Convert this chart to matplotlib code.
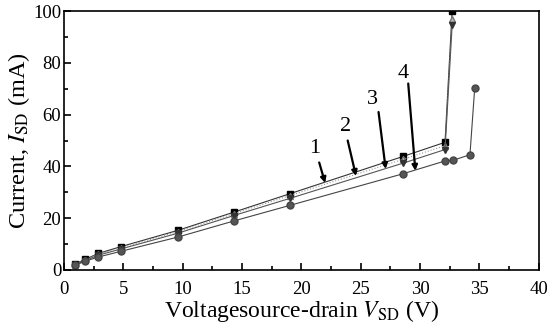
import numpy as np
import matplotlib
matplotlib.use("Agg")
import matplotlib.pyplot as plt

plt.rcParams['font.family'] = ['Liberation Serif', 'DejaVu Serif']
plt.rcParams['mathtext.fontset'] = 'stix'

# curves 1-3 share the same voltage points
v_123 = [0.9, 1.8, 2.9, 4.8, 9.6, 14.3, 19.0, 28.6, 32.1, 32.7]
i_1 = [2.2, 4.1, 6.4, 9.0, 15.3, 22.3, 29.4, 43.9, 49.3, 100.0]
i_2 = [2.0, 3.9, 6.1, 8.6, 14.8, 21.7, 28.7, 42.8, 48.0, 97.0]
i_3 = [1.8, 3.6, 5.7, 8.1, 14.2, 21.0, 27.6, 41.3, 46.5, 94.5]

v_4 = [0.9, 1.8, 2.9, 4.8, 9.6, 14.3, 19.0, 28.6, 32.1, 32.8, 34.2, 34.6]
i_4 = [1.8, 3.4, 5.0, 7.2, 12.7, 18.9, 24.9, 37.2, 42.1, 42.4, 44.5, 70.2]

curve_labels = ['1', '2', '3', '4']
label_xy = [(21.1, 47.0), (23.7, 55.5), (26.0, 65.7), (28.6, 76.0)]
arrow_from = [(21.5, 41.5), (23.9, 50.0), (26.5, 61.0), (29.0, 72.0)]
arrow_to = [(22.0, 33.6), (24.6, 36.3), (27.1, 39.0), (29.6, 38.3)]

fig = plt.figure(figsize=(5.47, 3.26), dpi=100)
ax = fig.add_axes([0.117, 0.172, 0.868, 0.794])

ax.plot(v_123, i_1, color='#333333', lw=0.8, marker='s', ms=4.5,
        mfc='black', mec='black')
ax.plot(v_123, i_2, color='#999999', lw=0.8, ls=':', marker='^', ms=5,
        mfc='#bbbbbb', mec='#777777')
ax.plot(v_123, i_3, color='#555555', lw=0.8, marker='v', ms=5,
        mfc='#333333', mec='#333333')
ax.plot(v_4, i_4, color='#444444', lw=0.8, marker='o', ms=5,
        mfc='#555555', mec='#444444')

for lab, xy, p0, p1 in zip(curve_labels, label_xy, arrow_from, arrow_to):
    ax.text(xy[0], xy[1], lab, fontsize=16, ha='center', va='center')
    ax.annotate('', xy=p1, xytext=p0,
                arrowprops=dict(arrowstyle='-|>', color='black', lw=1.6,
                                mutation_scale=8, shrinkA=0, shrinkB=0))

ax.set_xlim(0, 40)
ax.set_ylim(0, 100)
ax.set_xticks(np.arange(0, 41, 5))
ax.set_xticks(np.arange(0, 41, 2.5), minor=True)
ax.set_yticks(np.arange(0, 101, 20))
ax.set_yticks(np.arange(0, 101, 10), minor=True)
ax.tick_params(direction='in', which='both', labelsize=13.5, width=1.2)
ax.tick_params(which='major', length=5)
ax.tick_params(which='minor', length=3)
ax.tick_params(axis='x', pad=8)
ax.tick_params(axis='y', pad=2)
for s in ax.spines.values():
    s.set_linewidth(1.2)

ax.set_xlabel('Voltagesource-drain $V_{\\mathrm{SD}}$ (V)', fontsize=17, labelpad=0)
ax.set_ylabel('Current, $I_{\\mathrm{SD}}$ (mA)', fontsize=17.5, labelpad=1)

fig.savefig('out.png', dpi=100)
